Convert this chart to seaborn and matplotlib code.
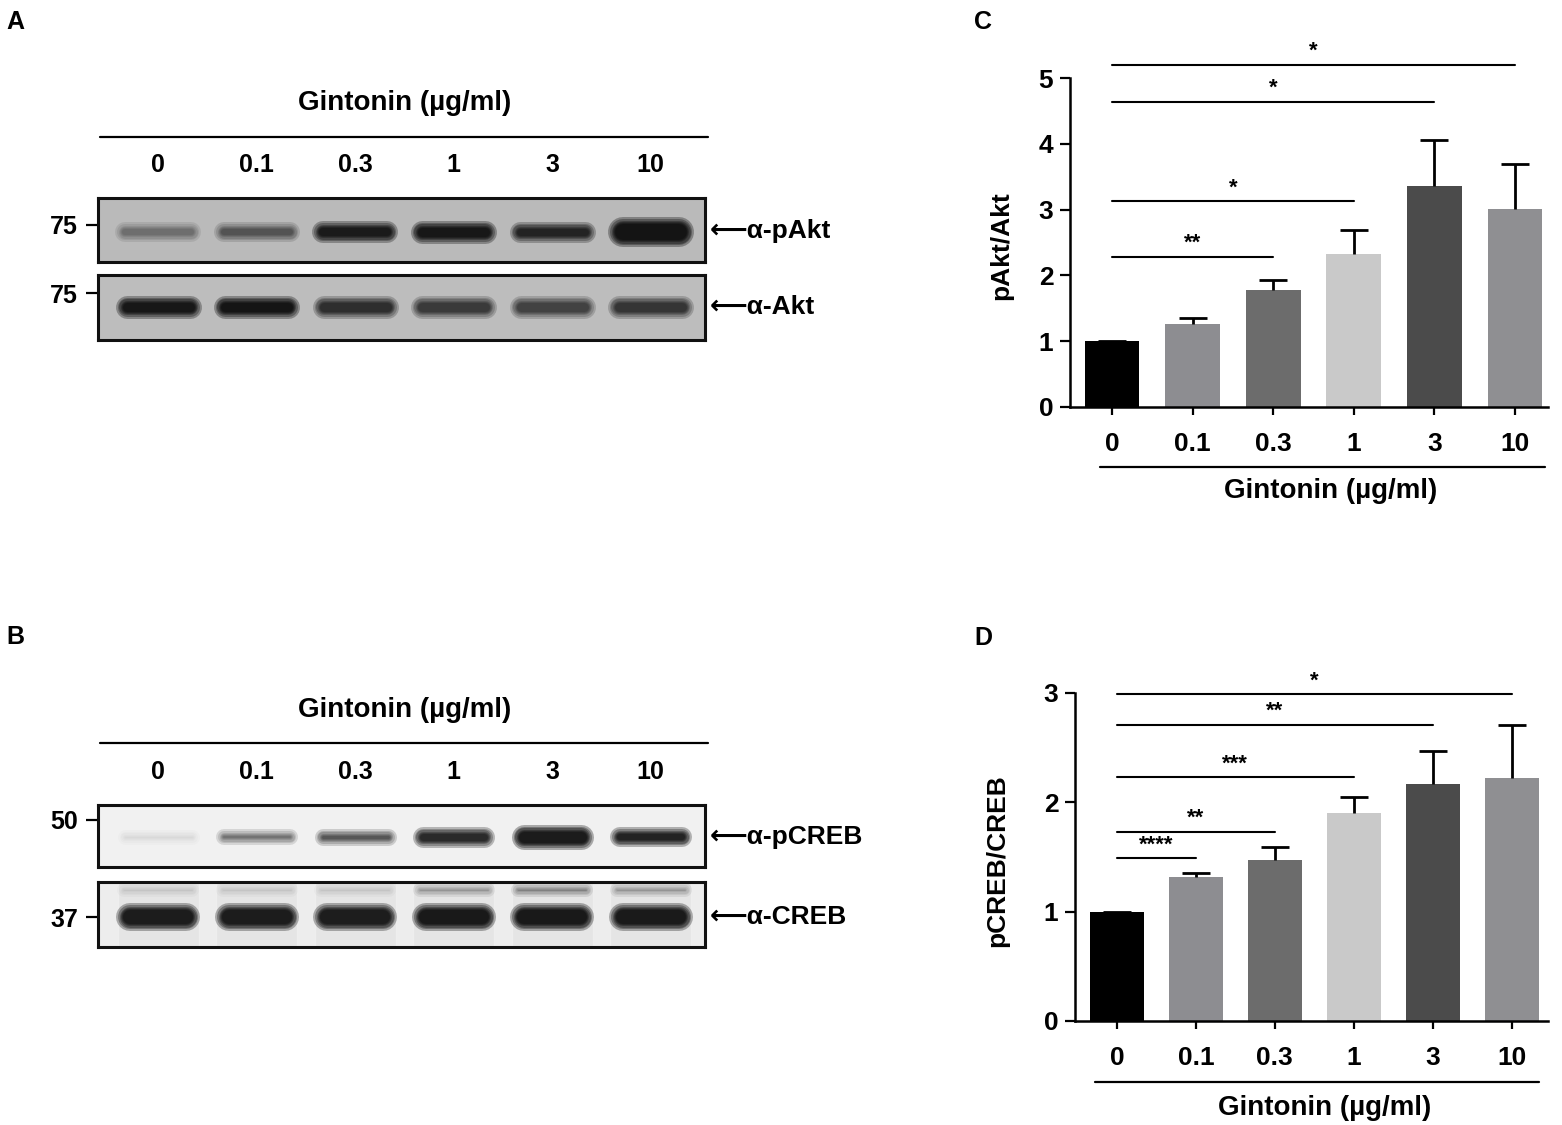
import matplotlib
matplotlib.use("Agg")
import matplotlib.pyplot as plt
import matplotlib.transforms as mtransforms
import numpy as np
import pandas as pd
import seaborn as sns

# ---------------------------------------------------------------------------
# Data
# ---------------------------------------------------------------------------
DOSES = ["0", "0.1", "0.3", "1", "3", "10"]

# panel C: pAkt/Akt mean and upper error
PAKT_MEAN = [1.00, 1.26, 1.78, 2.33, 3.36, 3.01]
PAKT_ERR_TOP = [1.00, 1.36, 1.93, 2.69, 4.06, 3.70]
C_SIG_END = [5, 4, 3, 2]
C_SIG_Y = [5.20, 4.64, 3.13, 2.28]
C_SIG_LABEL = ["*", "*", "*", "**"]

# panel D: pCREB/CREB mean and upper error
PCREB_MEAN = [1.00, 1.32, 1.47, 1.90, 2.17, 2.22]
PCREB_ERR_TOP = [1.00, 1.35, 1.59, 2.05, 2.47, 2.71]
D_SIG_END = [5, 4, 3, 2, 1]
D_SIG_Y = [2.99, 2.71, 2.23, 1.73, 1.49]
D_SIG_LABEL = ["*", "**", "***", "**", "****"]

# blot band darkness per lane (0 = none, 1 = saturated)
BAND_PAKT = [0.28, 0.40, 0.92, 0.95, 0.78, 1.00]
BAND_AKT = [0.95, 0.98, 0.68, 0.58, 0.52, 0.62]
BAND_PCREB = [0.05, 0.38, 0.52, 0.82, 1.00, 0.90]
BAND_CREB = [0.97, 0.97, 0.95, 1.00, 1.00, 0.98]
BAND_CREB_UPPER = [0.08, 0.08, 0.08, 0.22, 0.30, 0.22]

# ---------------------------------------------------------------------------
# Style
# ---------------------------------------------------------------------------
BAR_COLORS = ["#000000", "#8d8d91", "#6c6c6c", "#c9c9c9", "#4b4b4b", "#8f8f92"]
W, H = 1562, 1125
FONT = ["Liberation Sans", "DejaVu Sans"]

sns.set_theme(style="ticks")
plt.rcParams.update({
    "font.family": FONT,
    "font.weight": "bold",
    "axes.labelweight": "bold",
    "axes.linewidth": 1.8,
    "figure.facecolor": "white",
    "axes.facecolor": "white",
    "text.color": "black",
    "axes.labelcolor": "black",
    "xtick.color": "black",
    "ytick.color": "black",
    "xtick.labelcolor": "black",
    "ytick.labelcolor": "black",
})


def rect(x0, y0, x1, y1):
    """Figure-fraction rect from pixel box (top-left origin)."""
    return [x0 / W, 1 - y1 / H, (x1 - x0) / W, (y1 - y0) / H]


def fy(px):
    return 1 - px / H


fig = plt.figure(figsize=(W / 100, H / 100), dpi=100)

# ---------------------------------------------------------------------------
# Western blots (A, B)
# ---------------------------------------------------------------------------
LANE_XLIM = (-0.61, 5.55)
LANE_PX = 98.6


def draw_band(ax, i, y, dark, thick_px, length_px=78, color="black"):
    # stacked soft strokes so the band edge looks blurred
    half = (length_px / 2 - thick_px / 2) / LANE_PX
    for extra in [14, 10, 7, 4, 2, 0]:
        ax.plot([i - half, i + half], [y, y], color=color,
                alpha=min(1, dark * 0.3), lw=max(1, thick_px + extra - 6) * 0.72,
                solid_capstyle="round")


def blot_axes(box, bg, tick_y, tick_label, right_label, label_y):
    ax = fig.add_axes(rect(*box))
    ax.set_facecolor(bg)
    ax.set_xlim(*LANE_XLIM)
    ax.set_ylim(0, 1)
    ax.set_xticks([])
    ax.set_yticks([tick_y])
    ax.set_yticklabels([tick_label], fontsize=18, fontweight="bold")
    ax.tick_params(axis="y", length=8.5, width=1.6, pad=6, color="black")
    for s in ax.spines.values():
        s.set_visible(True)
        s.set_linewidth(2.2)
        s.set_color("#111111")
    ax.text(1.008, label_y, "\u27f5" + right_label, transform=ax.transAxes,
            fontsize=19, fontweight="bold", va="center", ha="left")
    return ax


def blot_header(ax, title_px, line_px, label_px):
    tr = mtransforms.blended_transform_factory(ax.transData, fig.transFigure)
    ax.text(2.5, fy(title_px), "Gintonin (µg/ml)", transform=tr, ha="center",
            va="center", fontsize=20, fontweight="bold")
    ax.plot([-0.59, 5.58], [fy(line_px)] * 2, transform=tr, color="black",
            lw=1.6, clip_on=False)
    for i, d in enumerate(DOSES):
        ax.text(i, fy(label_px), d, transform=tr, ha="center", va="center",
                fontsize=18, fontweight="bold")


# A: pAkt / Akt
ax_pakt = blot_axes((98, 198, 705, 262), "#bababa", 0.58, "75", "α-pAkt", 0.48)
ax_akt = blot_axes((98, 275, 705, 340), "#bdbdbd", 0.72, "75", "α-Akt", 0.5)
blot_header(ax_pakt, 103, 137, 165)
pakt_thick = [12, 12, 14, 15, 13, 22]
for i, d in enumerate(BAND_PAKT):
    draw_band(ax_pakt, i, 0.47, d, pakt_thick[i])
for i, d in enumerate(BAND_AKT):
    draw_band(ax_akt, i, 0.5, d, 15)

# B: pCREB / CREB
ax_pcreb = blot_axes((98, 805, 705, 867), "#f1f1f1", 0.76, "50", "α-pCREB", 0.49)
ax_creb = blot_axes((98, 882, 705, 947), "#ededed", 0.46, "37", "α-CREB", 0.46)
blot_header(ax_pcreb, 710, 743, 772)
pcreb_thick = [7, 8, 9, 13, 17, 12]
for i, d in enumerate(BAND_PCREB):
    draw_band(ax_pcreb, i, 0.49, d, pcreb_thick[i], length_px=74)
ax_creb.bar(range(6), [1] * 6, width=0.82, color="#cfcfcf", alpha=0.25, zorder=0)
for i, d in enumerate(BAND_CREB_UPPER):
    draw_band(ax_creb, i, 0.87, d, 6, length_px=74)
for i, d in enumerate(BAND_CREB):
    draw_band(ax_creb, i, 0.46, d, 20, length_px=76)

# ---------------------------------------------------------------------------
# Bar charts (C, D)
# ---------------------------------------------------------------------------


def bar_panel(box, xlim, ymax, mean, err_top, sig_end, sig_y, sig_label,
              ylabel, ylabel_x, under_px, title_px, under_x):
    ax = fig.add_axes(rect(*box))
    df = pd.DataFrame({"dose": DOSES, "ratio": mean})
    sns.barplot(data=df, x="dose", y="ratio", hue="dose", palette=BAR_COLORS,
                legend=False, ax=ax, width=0.68, saturation=1, linewidth=0)
    x = np.arange(len(DOSES))
    upper = np.array(err_top) - np.array(mean)
    _, caps, _ = ax.errorbar(x, mean, yerr=[np.zeros(len(x)), upper], fmt="none",
                             ecolor="black", elinewidth=2.0, capsize=10, capthick=2.0)
    caps[0].set_visible(False)  # one-sided: no cap at the bar top
    ax.set_xlim(*xlim)
    ax.set_ylim(0, ymax)
    ax.set_yticks(range(ymax + 1))
    ax.set_xlabel("")
    ax.set_ylabel(ylabel, fontsize=19, fontweight="bold")
    ax.yaxis.set_label_coords(ylabel_x, 0.49)
    sns.despine(ax=ax)
    for s in ("left", "bottom"):
        ax.spines[s].set_linewidth(1.8)
        ax.spines[s].set_color("black")
    ax.tick_params(axis="y", length=7, width=1.6, pad=5, labelsize=19, color="black")
    ax.tick_params(axis="x", length=6, width=1.6, pad=12, labelsize=19, color="black")
    for t in ax.get_xticklabels() + ax.get_yticklabels():
        t.set_fontweight("bold")

    for end, y, lab in zip(sig_end, sig_y, sig_label):
        ax.plot([0, end], [y, y], color="black", lw=1.5, clip_on=False)
        ax.annotate(lab, xy=(end / 2, y), xytext=(0, 2), textcoords="offset points",
                    ha="center", va="bottom", fontsize=16, fontweight="bold",
                    annotation_clip=False)

    tr = mtransforms.blended_transform_factory(ax.transData, fig.transFigure)
    ax.plot(under_x, [fy(under_px)] * 2, transform=tr, color="black", lw=1.6,
            clip_on=False)
    ax.text(sum(under_x) / 2 + 0.1, fy(title_px), "Gintonin (µg/ml)", transform=tr,
            ha="center", va="center", fontsize=20, fontweight="bold")
    return ax


ax_c = bar_panel((1070, 78, 1548, 407), (-0.52, 5.41), 5, PAKT_MEAN, PAKT_ERR_TOP,
                 C_SIG_END, C_SIG_Y, C_SIG_LABEL, "pAkt/Akt", -0.118,
                 467, 491, [-0.15, 5.37])
ax_d = bar_panel((1075, 693, 1548, 1021), (-0.53, 5.46), 3, PCREB_MEAN, PCREB_ERR_TOP,
                 D_SIG_END, D_SIG_Y, D_SIG_LABEL, "pCREB/CREB", -0.14,
                 1082, 1108, [-0.28, 5.34])

# panel letters
for lab, x, y in [("A", 15, 22), ("B", 15, 637), ("C", 983, 22), ("D", 983, 638)]:
    fig.text(x / W, fy(y), lab, fontsize=18, fontweight="bold", ha="center", va="center")

fig.savefig("out.png", dpi=100)
